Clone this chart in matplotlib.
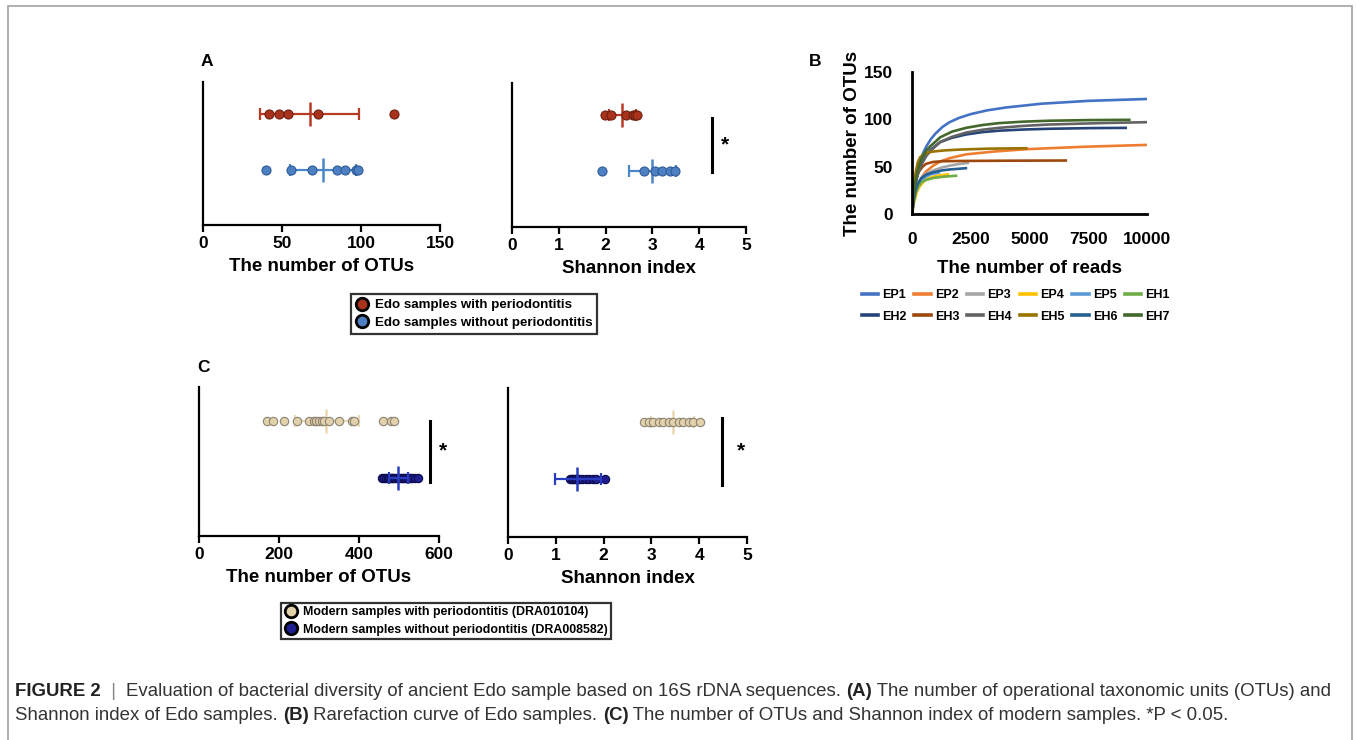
import matplotlib
matplotlib.use("Agg")
import matplotlib.pyplot as plt
from matplotlib.lines import Line2D
from matplotlib.patches import Rectangle

plt.rcParams["font.family"] = ["Liberation Sans", "DejaVu Sans"]

# ---- panel A: Edo samples ----
otu_edo_perio = [42, 48, 54, 73, 121]
otu_edo_perio_bar = (68, 36, 99)          # mean, low, high
otu_edo_healthy = [40, 56, 69, 85, 90, 97, 98]
otu_edo_healthy_bar = (76, 55, 97)
shannon_edo_perio = [1.98, 2.12, 2.44, 2.58, 2.63, 2.67]
shannon_edo_perio_bar = (2.36, 2.08, 2.65)
shannon_edo_healthy = [1.93, 2.83, 3.05, 3.21, 3.37, 3.49]
shannon_edo_healthy_bar = (2.99, 2.5, 3.5)

# ---- panel C: modern samples ----
otu_mod_perio = [169, 185, 213, 246, 274, 287, 293, 299, 308, 312, 325, 349, 382, 388, 460, 481, 487]
otu_mod_perio_bar = (318, 240, 400)
otu_mod_healthy = [458, 463, 468, 472, 475, 479, 483, 486, 490, 494, 497, 500, 505, 509, 513, 518,
                   523, 528, 533, 540, 548]
otu_mod_healthy_bar = (497, 475, 522)
shannon_mod_perio = [2.85, 2.94, 3.04, 3.15, 3.25, 3.36, 3.46, 3.57, 3.67, 3.78, 3.88, 4.02]
shannon_mod_perio_bar = (3.46, 3.0, 3.9)
shannon_mod_healthy = [1.30, 1.33, 1.36, 1.40, 1.43, 1.46, 1.49, 1.55, 1.63, 1.70, 1.78, 1.85, 2.03]
shannon_mod_healthy_bar = (1.45, 0.98, 1.94)

# ---- panel B: rarefaction curves ----
sample_names = ["EP1", "EP2", "EP3", "EP4", "EP5", "EH1", "EH2", "EH3", "EH4", "EH5", "EH6", "EH7"]
sample_colors = ["#4472C4", "#ED7D31", "#A5A5A5", "#FFC000", "#5B9BD5", "#70AD47",
                 "#264478", "#9E480E", "#636363", "#997300", "#255E91", "#43682B"]
reads_ep1 = [0, 50, 100, 200, 300, 450, 600, 800, 1000, 1300, 1600, 2000, 2500, 3200, 4000, 5500, 7500, 10000]
otus_ep1 = [0, 17, 28, 43, 52, 63, 71, 79, 85, 92, 97, 101.5, 105.5, 109.5, 112.5, 116.5, 119.5, 121.5]
reads_ep2 = [0, 80, 150, 250, 330, 450, 600, 900, 1200, 1600, 2300, 3500, 4900, 7300, 10000]
otus_ep2 = [0, 13, 20, 29, 34, 40, 45, 51, 55.5, 59, 63, 66, 68.5, 71, 73]
reads_ep3 = [0, 80, 150, 250, 400, 600, 900, 1250, 1600, 2000, 2430]
otus_ep3 = [0, 16, 25, 32, 38, 42.5, 46, 49, 51, 52.8, 54]
reads_ep4 = [0, 80, 150, 220, 300, 450, 600, 850, 1100, 1580]
otus_ep4 = [0, 11, 18, 24, 28, 33, 36.5, 39, 40.5, 42]
reads_ep5 = [0, 80, 150, 250, 400, 600, 800, 1200]
otus_ep5 = [0, 15, 24, 30, 36, 39.5, 42, 44]
reads_eh1 = [0, 80, 150, 250, 400, 600, 900, 1400, 1930]
otus_eh1 = [0, 14, 22, 28, 33.5, 36, 38, 39.5, 40.5]
reads_eh2 = [0, 80, 150, 250, 400, 600, 800, 1200, 1700, 2300, 3000, 3700, 4700, 5800, 7500, 9150]
otus_eh2 = [0, 20, 32, 43, 53, 62, 68, 76, 80.5, 84, 86.5, 88, 89.2, 90, 90.7, 91]
reads_eh3 = [0, 50, 100, 200, 300, 450, 600, 900, 1300, 2000, 4000, 6600]
otus_eh3 = [0, 20, 30, 40, 45, 50, 53, 55, 55.7, 56, 56.3, 56.5]
reads_eh4 = [0, 80, 150, 250, 400, 600, 800, 1200, 1700, 2300, 3000, 3700, 4700, 5800, 8000, 10000]
otus_eh4 = [0, 20, 32, 42, 52, 61, 67, 76, 81.5, 86, 89, 91, 93, 94.5, 96, 97]
reads_eh5 = [0, 50, 100, 170, 250, 350, 500, 700, 900, 1400, 2000, 3200, 4920]
otus_eh5 = [0, 22, 35, 46, 55, 60, 63, 65, 66, 67.2, 68, 69, 69.5]
reads_eh6 = [0, 80, 150, 250, 400, 600, 900, 1250, 1600, 2000, 2350]
otus_eh6 = [0, 16, 25, 32, 38, 41.5, 44, 46, 47, 47.8, 48.5]
reads_eh7 = [0, 80, 150, 250, 400, 600, 800, 1200, 1700, 2300, 3000, 3700, 4700, 5800, 7500, 9300]
otus_eh7 = [0, 22, 35, 47, 58, 67, 72, 81, 87, 91, 94, 96, 97.5, 98.5, 99.2, 99.5]
curves = [(reads_ep1, otus_ep1), (reads_ep2, otus_ep2), (reads_ep3, otus_ep3),
          (reads_ep4, otus_ep4), (reads_ep5, otus_ep5), (reads_eh1, otus_eh1),
          (reads_eh2, otus_eh2), (reads_eh3, otus_eh3), (reads_eh4, otus_eh4),
          (reads_eh5, otus_eh5), (reads_eh6, otus_eh6), (reads_eh7, otus_eh7)]

W, H = 1356, 740
fig = plt.figure(figsize=(W / 100, H / 100), dpi=100)


def px_axes(x0, y0, x1, y1):
    """axes from pixel box (top-left origin)"""
    return fig.add_axes([x0 / W, 1 - y1 / H, (x1 - x0) / W, (y1 - y0) / H])


def style_dot_axes(ax, xlim, xticks, xlabel):
    ax.set_xlim(*xlim)
    ax.set_ylim(0, 1)
    ax.set_xticks(xticks)
    ax.set_yticks([])
    for s in ("top", "right"):
        ax.spines[s].set_visible(False)
    for s in ("left", "bottom"):
        ax.spines[s].set_linewidth(1.6)
    ax.tick_params(axis="x", length=5, width=1.6, labelsize=12.5, pad=3)
    for lab in ax.get_xticklabels():
        lab.set_fontweight("bold")
    ax.set_xlabel(xlabel, fontsize=13.5, fontweight="bold", labelpad=5)
    ax.patch.set_alpha(0)


def dot_row(ax, vals, bar, y, fc, ec, barc, ms=6.5, mew=0.8, bar_on_top=False):
    z = 4 if bar_on_top else 2
    ax.plot(vals, [y] * len(vals), "o", ms=ms, mfc=fc, mec=ec, mew=mew, zorder=3, clip_on=False)
    mean, lo, hi = bar
    ax.errorbar([mean], [y], xerr=[[mean - lo], [hi - mean]], fmt="none", ecolor=barc,
                elinewidth=1.6, capsize=4, capthick=1.6, zorder=z)
    ax.plot([mean], [y], marker="|", ms=17, mew=1.8, color=barc, zorder=z)


def sig_bar(ax, x, y0, y1, xs, ys):
    ax.plot([x, x], [y0, y1], color="black", lw=2.2, clip_on=False)
    ax.text(xs, ys, "*", fontsize=15, fontweight="bold", ha="center", va="center")


row_hi, row_lo = 0.775, 0.388
red, red_e, red_b = "#a8321c", "#6e1f10", "#b63a24"
blu, blu_e, blu_b = "#4d80c2", "#2e5c98", "#4a86c8"
tan, tan_e, tan_b = "#e2d2ac", "#8c8272", "#ead9b4"
nav, nav_e, nav_b = "#1e1e90", "#0c0c4c", "#2a3cc0"

# A left
ax = px_axes(203, 82, 440, 225)
style_dot_axes(ax, (0, 150), [0, 50, 100, 150], "The number of OTUs")
dot_row(ax, otu_edo_perio, otu_edo_perio_bar, row_hi, red, red_e, red_b)
dot_row(ax, otu_edo_healthy, otu_edo_healthy_bar, row_lo, blu, blu_e, blu_b)

# A right
ax = px_axes(512, 83, 746, 227)
style_dot_axes(ax, (0, 5), [0, 1, 2, 3, 4, 5], "Shannon index")
dot_row(ax, shannon_edo_perio, shannon_edo_perio_bar, row_hi, red, red_e, red_b)
dot_row(ax, shannon_edo_healthy, shannon_edo_healthy_bar, row_lo, blu, blu_e, blu_b)
sig_bar(ax, 4.27, 0.38, 0.76, 4.55, 0.57)

# C left
ax = px_axes(199, 387, 439, 536)
style_dot_axes(ax, (0, 600), [0, 200, 400, 600], "The number of OTUs")
dot_row(ax, otu_mod_perio, otu_mod_perio_bar, row_hi, tan, tan_e, tan_b, ms=6)
dot_row(ax, otu_mod_healthy, otu_mod_healthy_bar, row_lo, nav, nav_e, nav_b, ms=6, bar_on_top=True)
sig_bar(ax, 578, 0.365, 0.77, 610, 0.57)

# C right
ax = px_axes(508, 388, 747, 537)
style_dot_axes(ax, (0, 5), [0, 1, 2, 3, 4, 5], "Shannon index")
dot_row(ax, shannon_mod_perio, shannon_mod_perio_bar, row_hi, tan, tan_e, tan_b, ms=6)
dot_row(ax, shannon_mod_healthy, shannon_mod_healthy_bar, row_lo, nav, nav_e, nav_b, ms=6,
        bar_on_top=True)
sig_bar(ax, 4.48, 0.35, 0.80, 4.87, 0.58)

# B rarefaction
ax = px_axes(912, 72, 1147, 214)
for (rx, oy), name, col in zip(curves, sample_names, sample_colors):
    ax.plot(rx, oy, color=col, lw=1.9, label=name, solid_capstyle="butt", solid_joinstyle="round")
ax.set_xlim(0, 10000)
ax.set_ylim(0, 150)
ax.set_xticks([0, 2500, 5000, 7500, 10000])
ax.set_yticks([0, 50, 100, 150])
for s in ("top", "right"):
    ax.spines[s].set_visible(False)
for s in ("left", "bottom"):
    ax.spines[s].set_linewidth(2)
ax.tick_params(length=0, labelsize=12.5, pad=13)
ax.tick_params(axis="y", pad=14)
for lab in ax.get_xticklabels() + ax.get_yticklabels():
    lab.set_fontweight("bold")
ax.set_xlabel("The number of reads", fontsize=13.5, fontweight="bold", labelpad=9)
ax.set_ylabel("The number of OTUs", fontsize=13.5, fontweight="bold", labelpad=2)
# matplotlib fills legend columns first; reorder so rows read EP1..EH1, EH2..EH7
order = [i + 6 * r for i in range(6) for r in range(2)]
leg_handles = [Line2D([], [], color=sample_colors[i], lw=2.6) for i in order]
fig.legend(leg_handles, [sample_names[i] for i in order], loc="center",
           bbox_to_anchor=(1016 / W, 1 - 306 / H), ncol=6, frameon=False,
           prop={"weight": "bold", "size": 9}, handlelength=1.3, handletextpad=0.35,
           columnspacing=0.6, labelspacing=0.75)

# legends for A and C
def dot_handle(fc):
    return Line2D([], [], ls="none", marker="o", ms=9, mfc=fc, mec="black", mew=2)

leg = fig.legend([dot_handle(red), dot_handle(blu)],
                 ["Edo samples with periodontitis", "Edo samples without periodontitis"],
                 loc="center", bbox_to_anchor=(474 / W, 1 - 314 / H), fancybox=False,
                 prop={"weight": "bold", "size": 9.6}, handletextpad=0.5, labelspacing=0.4,
                 borderpad=0.35, handlelength=1.0)
leg.get_frame().set_edgecolor("black")
leg.get_frame().set_linewidth(1.6)
leg = fig.legend([dot_handle(tan), dot_handle(nav)],
                 ["Modern samples with periodontitis (DRA010104)",
                  "Modern samples without periodontitis (DRA008582)"],
                 loc="center", bbox_to_anchor=(446 / W, 1 - 621 / H), fancybox=False,
                 prop={"weight": "bold", "size": 8.9}, handletextpad=0.5, labelspacing=0.45,
                 borderpad=0.3, handlelength=1.0)
leg.get_frame().set_edgecolor("black")
leg.get_frame().set_linewidth(1.6)

# panel letters
for letter, x, y in (("A", 207, 62), ("B", 815, 62), ("C", 203, 368)):
    fig.text(x / W, 1 - y / H, letter, fontsize=12.5, fontweight="bold", ha="center", va="center")

# outer frame
fig.patches.append(Rectangle((8 / W, -0.1), (1352 - 8) / W, 1 - 6 / H + 0.1,
                             transform=fig.transFigure, fill=False, ec="#a8a8a8", lw=1.3))

# caption, built from bold/regular pieces laid side by side
line1 = [("FIGURE 2", "bold", "#222222"), ("  |  ", "light", "#888888"),
         ("Evaluation of bacterial diversity of ancient Edo sample based on 16S rDNA sequences. ",
          "normal", "#333333"),
         ("(A)", "bold", "#222222"),
         (" The number of operational taxonomic units (OTUs) and", "normal", "#333333")]
line2 = [("Shannon index of Edo samples. ", "normal", "#333333"), ("(B)", "bold", "#222222"),
         (" Rarefaction curve of Edo samples. ", "normal", "#333333"), ("(C)", "bold", "#222222"),
         (" The number of OTUs and Shannon index of modern samples. *P < 0.05.", "normal",
          "#333333")]

renderer = fig.canvas.get_renderer()


def draw_line(parts, x0, y, size):
    x = x0
    made = []
    for txt, weight, col in parts:
        t = fig.text(x / W, 1 - y / H, txt, fontsize=size, color=col,
                     fontweight="normal" if weight == "light" else weight, va="center")
        bb = t.get_window_extent(renderer)
        x += bb.width
        made.append(t)
    return made, x - x0


made, width = draw_line(line1, 15, 691, 11.5)
size = 11.5 * (1336 - 15) / width
for t in made:
    t.remove()
draw_line(line1, 15, 691, size)
draw_line(line2, 15, 716, size)

fig.savefig("out.png", dpi=100)
